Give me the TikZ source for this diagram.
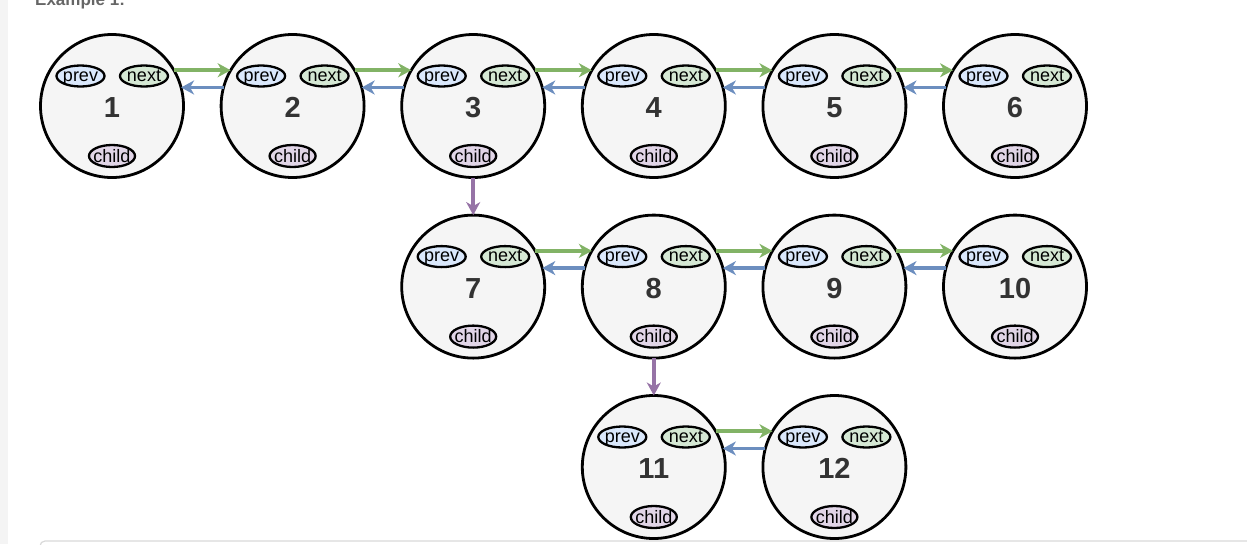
\documentclass[tikz,border=0pt]{standalone}
\usepackage{fontspec}
\setmainfont{Liberation Sans}
\usetikzlibrary{shapes.geometric,arrows.meta}
\definecolor{nodefill}{HTML}{F5F5F5}
\definecolor{prevfill}{HTML}{DAE8FC}
\definecolor{nextfill}{HTML}{D5E8D4}
\definecolor{childfill}{HTML}{E1D5E7}
\definecolor{greenline}{HTML}{82B366}
\definecolor{blueline}{HTML}{6C8EBF}
\definecolor{purpleline}{HTML}{9673A6}
\definecolor{numgray}{HTML}{333333}
\definecolor{stripgray}{HTML}{F4F4F4}
\definecolor{titlegray}{HTML}{666666}
\definecolor{framegray}{HTML}{D9D9D9}
\tikzset{
  listnode/.style={circle, draw=black, line width=2.8pt, fill=nodefill, minimum size=143pt, inner sep=0pt, outer sep=0pt},
  numtxt/.style={font=\bfseries\fontsize{29}{29}\selectfont, text=numgray, inner sep=0pt},
  fieldbox/.style={ellipse, draw=black, line width=2.3pt, minimum width=48pt, minimum height=21pt, inner sep=0pt},
  fieldtxt/.style={font=\fontsize{18}{18}\selectfont, text=black, inner sep=0pt, anchor=base},
  pbox/.style={fieldbox, fill=prevfill},
  nbox/.style={fieldbox, fill=nextfill},
  cbox/.style={fieldbox, fill=childfill, minimum width=46pt, minimum height=22pt},
  linkarrow/.style={line width=3.6pt, -{Stealth[length=13pt,width=14pt,inset=4pt]}},
  nextarrow/.style={linkarrow, draw=greenline},
  prevarrow/.style={linkarrow, draw=blueline},
  childarrow/.style={linkarrow, draw=purpleline},
}
\begin{document}
\begin{tikzpicture}[x=1pt,y=-1pt]
\useasboundingbox (0,0) rectangle (1247,544);
\fill[stripgray] (0,0) rectangle (8,544);
\node[anchor=base west, inner sep=0pt, font=\bfseries\fontsize{17}{17}\selectfont, text=titlegray] (title) at (35,5.5) {Example 1:};
\draw[framegray, line width=1.2pt, rounded corners=5pt] (40,570) -- (40,541) -- (1260,541);
\foreach \name/\x/\y/\num in {n1/112/106/1, n2/292.6/106/2, n3/473.2/106/3, n4/653.8/106/4, n5/834.4/106/5, n6/1015/106/6,
  n7/473.2/286.6/7, n8/653.8/286.6/8, n9/834.4/286.6/9, n10/1015/286.6/10,
  n11/653.8/467/11, n12/834.4/467/12} {
  \node[listnode] (\name) at (\x,\y) {};
  \node[numtxt] (\name-num) at (\x,\y+1.5) {\num};
  \node[pbox] (\name-p) at (\x-31.5,\y-30) {};
  \node[fieldtxt] (\name-pt) at ([yshift=-5pt]\name-p.center) {prev};
  \node[nbox] (\name-n) at (\x+32,\y-30) {};
  \node[fieldtxt] (\name-nt) at ([yshift=-5pt]\name-n.center) {next};
  \node[cbox] (\name-c) at (\x,\y+50) {};
  \node[fieldtxt] (\name-ct) at ([yshift=-6pt]\name-c.center) {child};
}
\foreach \a/\b in {n1/n2, n2/n3, n3/n4, n4/n5, n5/n6, n7/n8, n8/n9, n9/n10, n11/n12} {
  \draw[nextarrow] (\a.30) -- (\a.30 -| \b.150);
  \draw[prevarrow] (\b.165) -- (\b.165 -| \a.15);
}
\draw[childarrow] (n3.south) -- (n7.north);
\draw[childarrow] (n8.south) -- (n11.north);
\end{tikzpicture}
\end{document}
